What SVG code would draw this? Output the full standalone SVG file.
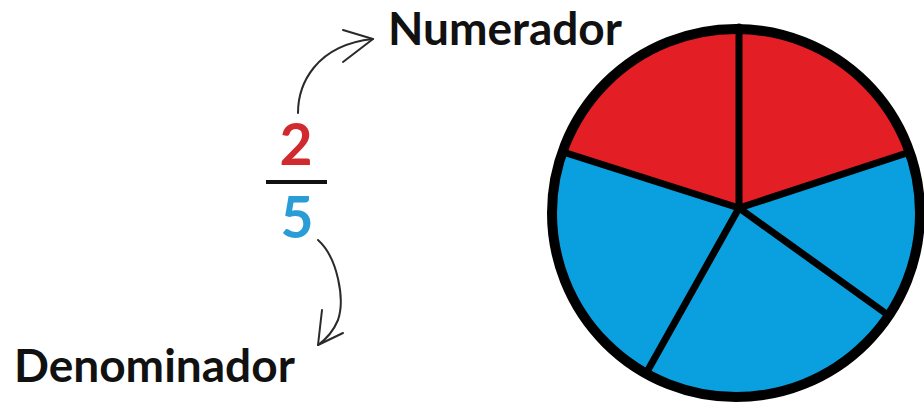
<svg xmlns="http://www.w3.org/2000/svg" width="924" height="408" viewBox="0 0 924 408">
<style>
.lbl{font-family:Lato,"Noto Sans","Liberation Sans",sans-serif;font-weight:700;fill:#111}
.num{font-family:Lato,"Noto Sans","Liberation Sans",sans-serif;font-weight:700}
.conn{fill:none;stroke:#2a2a2a;stroke-width:2;stroke-linecap:round;stroke-linejoin:round}
.spoke{stroke:#000;stroke-width:7;stroke-linecap:round}
</style>
<rect width="924" height="408" fill="#fff"/>
<g id="fraction">
<text class="num" x="296" y="165" font-size="57" fill="#d12a2e" text-anchor="middle">2</text>
<line x1="266" y1="182" x2="327" y2="182" stroke="#111" stroke-width="4"/>
<text class="num" x="297" y="238" font-size="57" fill="#2b9dd6" text-anchor="middle">5</text>
</g>
<g id="numerador">
<text class="lbl" x="388" y="45" font-size="46">Numerador</text>
</g>
<g id="denominador">
<text class="lbl" x="14" y="382" font-size="46">Denominador</text>
</g>
<g id="pie">
<circle cx="736" cy="213" r="184" fill="#0aa0e0"/>
<path d="M739,208 L563,152 A184,184 0 0 1 910,152 Z" fill="#e31e24"/>
<line class="spoke" x1="739" y1="208" x2="739" y2="27"/>
<line class="spoke" x1="739" y1="208" x2="910" y2="152"/>
<line class="spoke" x1="739" y1="208" x2="888" y2="315"/>
<line class="spoke" x1="739" y1="208" x2="648" y2="370"/>
<line class="spoke" x1="739" y1="208" x2="563" y2="152"/>
<circle cx="736" cy="213" r="184" fill="none" stroke="#000" stroke-width="10"/>
</g>
<g id="connectors">
<path class="conn" d="M298,113 C298,85 315,45 373,39"/>
<path class="conn" d="M343,30 L373,39 L343,62"/>
<path class="conn" d="M318,240 C338,258 345,300 338,320 C333,332 325,340 318,345"/>
<path class="conn" d="M322,310 L318,345 L343,333"/>
</g>
</svg>
